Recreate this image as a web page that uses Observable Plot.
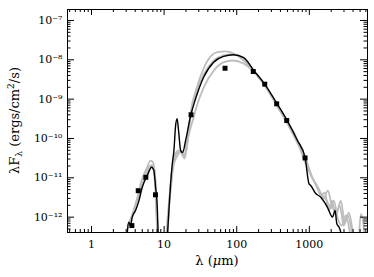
<!DOCTYPE html>
<html><head><meta charset="utf-8">
<script src="https://cdn.jsdelivr.net/npm/d3@7"></script>
<script src="https://cdn.jsdelivr.net/npm/@observablehq/plot@0.6"></script>
<style>body{margin:0;background:#fff} svg{display:block}</style>
</head><body><div id="chart"></div>
<script>
// Observed photometry: wavelength (micron), flux (erg/cm^2/s)
const obsWave = [3.6, 4.4, 5.6, 7.6, 23.5, 69, 169, 243, 355, 488, 873];
const obsFlux = [6.1e-13, 4.7e-12, 1.03e-11, 3.7e-12, 4.0e-10, 6.1e-9, 5.05e-9, 2.4e-9, 7.6e-10, 2.86e-10, 3.2e-11];

// Best-fit model (black)  [wavelength, flux]
const bestModel = [[3.0,1e-13],[3.11,4e-13],[3.27,7.4e-13],[3.45,6.1e-13],[3.64,1.0e-12],[4.04,1.47e-12],[4.49,2.6e-12],[5.0,5.75e-12],[5.86,1.14e-11],[6.72,1.86e-11],[7.22,1.53e-11],[7.63,5.75e-12],[8.05,1.78e-12],[8.31,3e-13],[8.6,1e-13],[10,1e-14],[10.7,1e-13],[11.06,3e-13],[11.64,1.47e-12],[12.28,7.0e-12],[12.96,2.27e-11],[13.64,4.9e-11],[14.4,2.14e-10],[15.1,3.2e-10],[15.8,1.6e-10],[16.9,4.9e-11],[18.0,4.4e-11],[19.8,8.9e-11],[23.2,3.84e-10],[27.2,1.04e-9],[35.0,3.6e-9],[48.1,8.7e-9],[66.0,1.22e-8],[89.9,1.34e-8],[124.7,1.13e-8],[171.4,5.4e-9],[243,2.4e-9],[355,7.9e-10],[489,2.98e-10],[686,8.9e-11],[873,3.3e-11],[991,7.0e-12],[1045,6.4e-12],[1225,4.0e-12],[1436,3.2e-12],[1777,1.78e-12],[2084,1.0e-12],[2261,1.47e-12],[2388,6.9e-13],[2570,5.5e-13],[2712,4e-13],[2900,1e-13]];

// Alternative good-fit models (grey)
const modelA = [[3.14,6.1e-13],[4.04,1.97e-12],[4.89,8.5e-12],[5.73,1.72e-11],[6.51,2.75e-11],[7.05,2.44e-11],[7.63,6.4e-12],[8.13,4.6e-13],[8.5,1e-13],[10,1e-14],[10.6,2e-13],[11.9,3.5e-12],[13.1,2.05e-11],[13.9,3.7e-11],[15.8,4.9e-11],[17.4,4.1e-11],[19.1,3.1e-11],[21.1,8.9e-11],[23.2,4.57e-10],[28.0,1.87e-9],[35.0,6.0e-9],[43.7,1.22e-8],[54.6,1.56e-8],[70.4,1.63e-8],[90.8,1.45e-8],[124.7,9.6e-9],[171,5.05e-9],[243,2.22e-9],[355,6.9e-10],[489,2.55e-10],[692,7.4e-11],[893,2.75e-11],[1114,9.6e-12],[1349,4.7e-12],[1530,3.5e-12],[1738,2.64e-12],[1974,1.65e-12],[2172,2.64e-12],[2465,9.2e-13],[2798,6.1e-13],[3176,1.1e-12],[3605,4.06e-13],[3965,1e-13]];
const modelB = [[3.14,5.1e-13],[3.79,1.47e-12],[4.59,4.7e-12],[5.55,1.14e-11],[6.31,2.05e-11],[6.93,1.94e-11],[7.51,6.4e-12],[8.0,4.6e-13],[8.4,1e-13],[10,1e-14],[10.9,1e-13],[11.2,4.6e-13],[12.3,4.7e-12],[13.5,2.05e-11],[15.3,3.7e-11],[17.4,4.9e-11],[19.1,3.7e-11],[20.4,7.4e-11],[25.5,3.41e-10],[28.9,7.7e-10],[35.3,2.01e-9],[48.5,5.4e-9],[66.7,8.7e-9],[87.1,9.6e-9],[125.9,7.9e-9],[173,4.85e-9],[243,2.22e-9],[355,7.3e-10],[489,2.7e-10],[692,8.4e-11],[893,3.1e-11],[1079,1.08e-11],[1265,6.4e-12],[1436,3.5e-12],[1630,4.2e-12],[1853,1.47e-12],[2038,2.64e-12],[2314,1.16e-12],[2626,1.97e-12],[2981,6.1e-13],[3384,1.1e-12],[3841,4.06e-13],[4200,1e-13]];
const modelC = [[3.3,6.1e-13],[4.0,1.8e-12],[5.0,6.5e-12],[6.0,1.4e-11],[6.8,2.1e-11],[7.3,1.7e-11],[7.7,6e-12],[8.1,5e-13],[8.5,1e-13],[10,1e-14],[11,2e-13],[12,4e-12],[13.3,2.2e-11],[15,4.2e-11],[17,4.6e-11],[19,3.4e-11],[21,8e-11],[23.2,3.6e-10],[28,1.5e-9],[35,4.2e-9],[48,9.5e-9],[66,1.3e-8],[85,1.38e-8],[125,1.1e-8],[171,5.3e-9],[243,2.3e-9],[355,7.5e-10],[489,2.8e-10],[692,8.6e-11],[762,4.9e-11],[951,1.72e-11],[1150,8.5e-12],[1349,5.3e-12],[1580,3.0e-12],[1795,4.7e-12],[2038,1.97e-12],[2388,1.31e-12],[2711,2.64e-12],[3077,7.3e-13],[3493,1.31e-12],[3965,4.06e-13],[4363,1e-13],[4800,3e-13],[5115,1.2e-12],[5450,9e-13],[5807,3e-13],[6300,1e-13]];

// Axis ticks
const xMajor = [1, 10, 100, 1000];
const xLabels = ["1", "10", "100", "1000"];
const yMajor = [1e-12, 1e-11, 1e-10, 1e-9, 1e-8, 1e-7];
const yLabels = ["10⁻¹²", "10⁻¹¹", "10⁻¹⁰", "10⁻⁹", "10⁻⁸", "10⁻⁷"];

const xDomain = [0.467, 6325];
const yDomain = [4.07e-13, 1.9e-7];
const W = 374, H = 277, mL = 67, mR = 7, mT = 9, mB = 45;
const pw = W - mL - mR, ph = H - mT - mB;

const xMinor = [], yMinor = [];
for (let d = 0.1; d <= 1000; d *= 10) for (let k = 2; k <= 9; k++) { const v = +(d * k).toPrecision(3); if (v > xDomain[0] && v < xDomain[1]) xMinor.push(v); }
for (let e = -13; e <= -7; e++) for (let k = 2; k <= 9; k++) { const v = k * Math.pow(10, e); if (v > yDomain[0] && v < yDomain[1]) yMinor.push(v); }

const toRows = a => a.map(([w, f]) => ({w, f}));
const obs = obsWave.map((w, i) => ({w, f: obsFlux[i]}));
const grey = "#bdbdbd";

const plot = Plot.plot({
  width: W, height: H,
  marginLeft: mL, marginRight: mR, marginTop: mT, marginBottom: mB,
  x: {type: "log", domain: xDomain},
  y: {type: "log", domain: yDomain},
  style: {fontFamily: "DejaVu Serif", fontSize: "11px", color: "black", background: "white"},
  marks: [
    Plot.line(toRows(modelA), {x: "w", y: "f", stroke: grey, strokeWidth: 1.8, curve: "monotone-x", clip: true}),
    Plot.line(toRows(modelB), {x: "w", y: "f", stroke: grey, strokeWidth: 1.8, curve: "monotone-x", clip: true}),
    Plot.line(toRows(modelC), {x: "w", y: "f", stroke: grey, strokeWidth: 1.8, curve: "monotone-x", clip: true}),
    Plot.line(toRows(bestModel), {x: "w", y: "f", stroke: "black", strokeWidth: 1.4, curve: "monotone-x", clip: true}),
    Plot.dot(obs, {x: "w", y: "f", symbol: "square", r: 2.8, fill: "black", stroke: null}),
    Plot.frame({stroke: "black", strokeWidth: 1}),
    // inward ticks, all four sides
    Plot.tickX(xMajor, {x: d => d, insetTop: ph - 6, stroke: "black"}),
    Plot.tickX(xMajor, {x: d => d, insetBottom: ph - 6, stroke: "black"}),
    Plot.tickX(xMinor, {x: d => d, insetTop: ph - 3, stroke: "black"}),
    Plot.tickX(xMinor, {x: d => d, insetBottom: ph - 3, stroke: "black"}),
    Plot.tickY(yMajor, {y: d => d, insetRight: pw - 7, stroke: "black"}),
    Plot.tickY(yMajor, {y: d => d, insetLeft: pw - 7, stroke: "black"}),
    Plot.tickY(yMinor, {y: d => d, insetRight: pw - 3.5, stroke: "black"}),
    Plot.tickY(yMinor, {y: d => d, insetLeft: pw - 3.5, stroke: "black"}),
    Plot.axisX(xMajor, {tickSize: 0, tickPadding: 8, tickFormat: (d) => xLabels[xMajor.indexOf(d)], label: null, fontSize: 11}),
    Plot.axisY(yMajor, {tickSize: 0, tickPadding: 5, tickFormat: (d) => yLabels[yMajor.indexOf(d)], label: null, fontSize: 11})
  ]
});

const svg = d3.select(plot);
// x label
const xl = svg.append("text").attr("x", mL + pw / 2).attr("y", 265)
  .attr("text-anchor", "middle").attr("font-family", "DejaVu Serif").attr("font-size", 13).attr("fill", "black");
xl.append("tspan").text("λ (");
xl.append("tspan").attr("font-style", "italic").text("μ");
xl.append("tspan").text("m)");
// y label
const yl = svg.append("text").attr("transform", `translate(19,${mT + ph / 2}) rotate(-90)`)
  .attr("text-anchor", "middle").attr("font-family", "DejaVu Serif").attr("font-size", 13).attr("fill", "black");
yl.append("tspan").text("λF");
yl.append("tspan").attr("font-size", 9).attr("dy", 3).text("λ");
yl.append("tspan").attr("dy", -3).text(" (ergs/cm");
yl.append("tspan").attr("font-size", 9).attr("dy", -5).text("2");
yl.append("tspan").attr("dy", 5).text("/s)");

document.getElementById("chart").appendChild(plot);
</script>
</body></html>
